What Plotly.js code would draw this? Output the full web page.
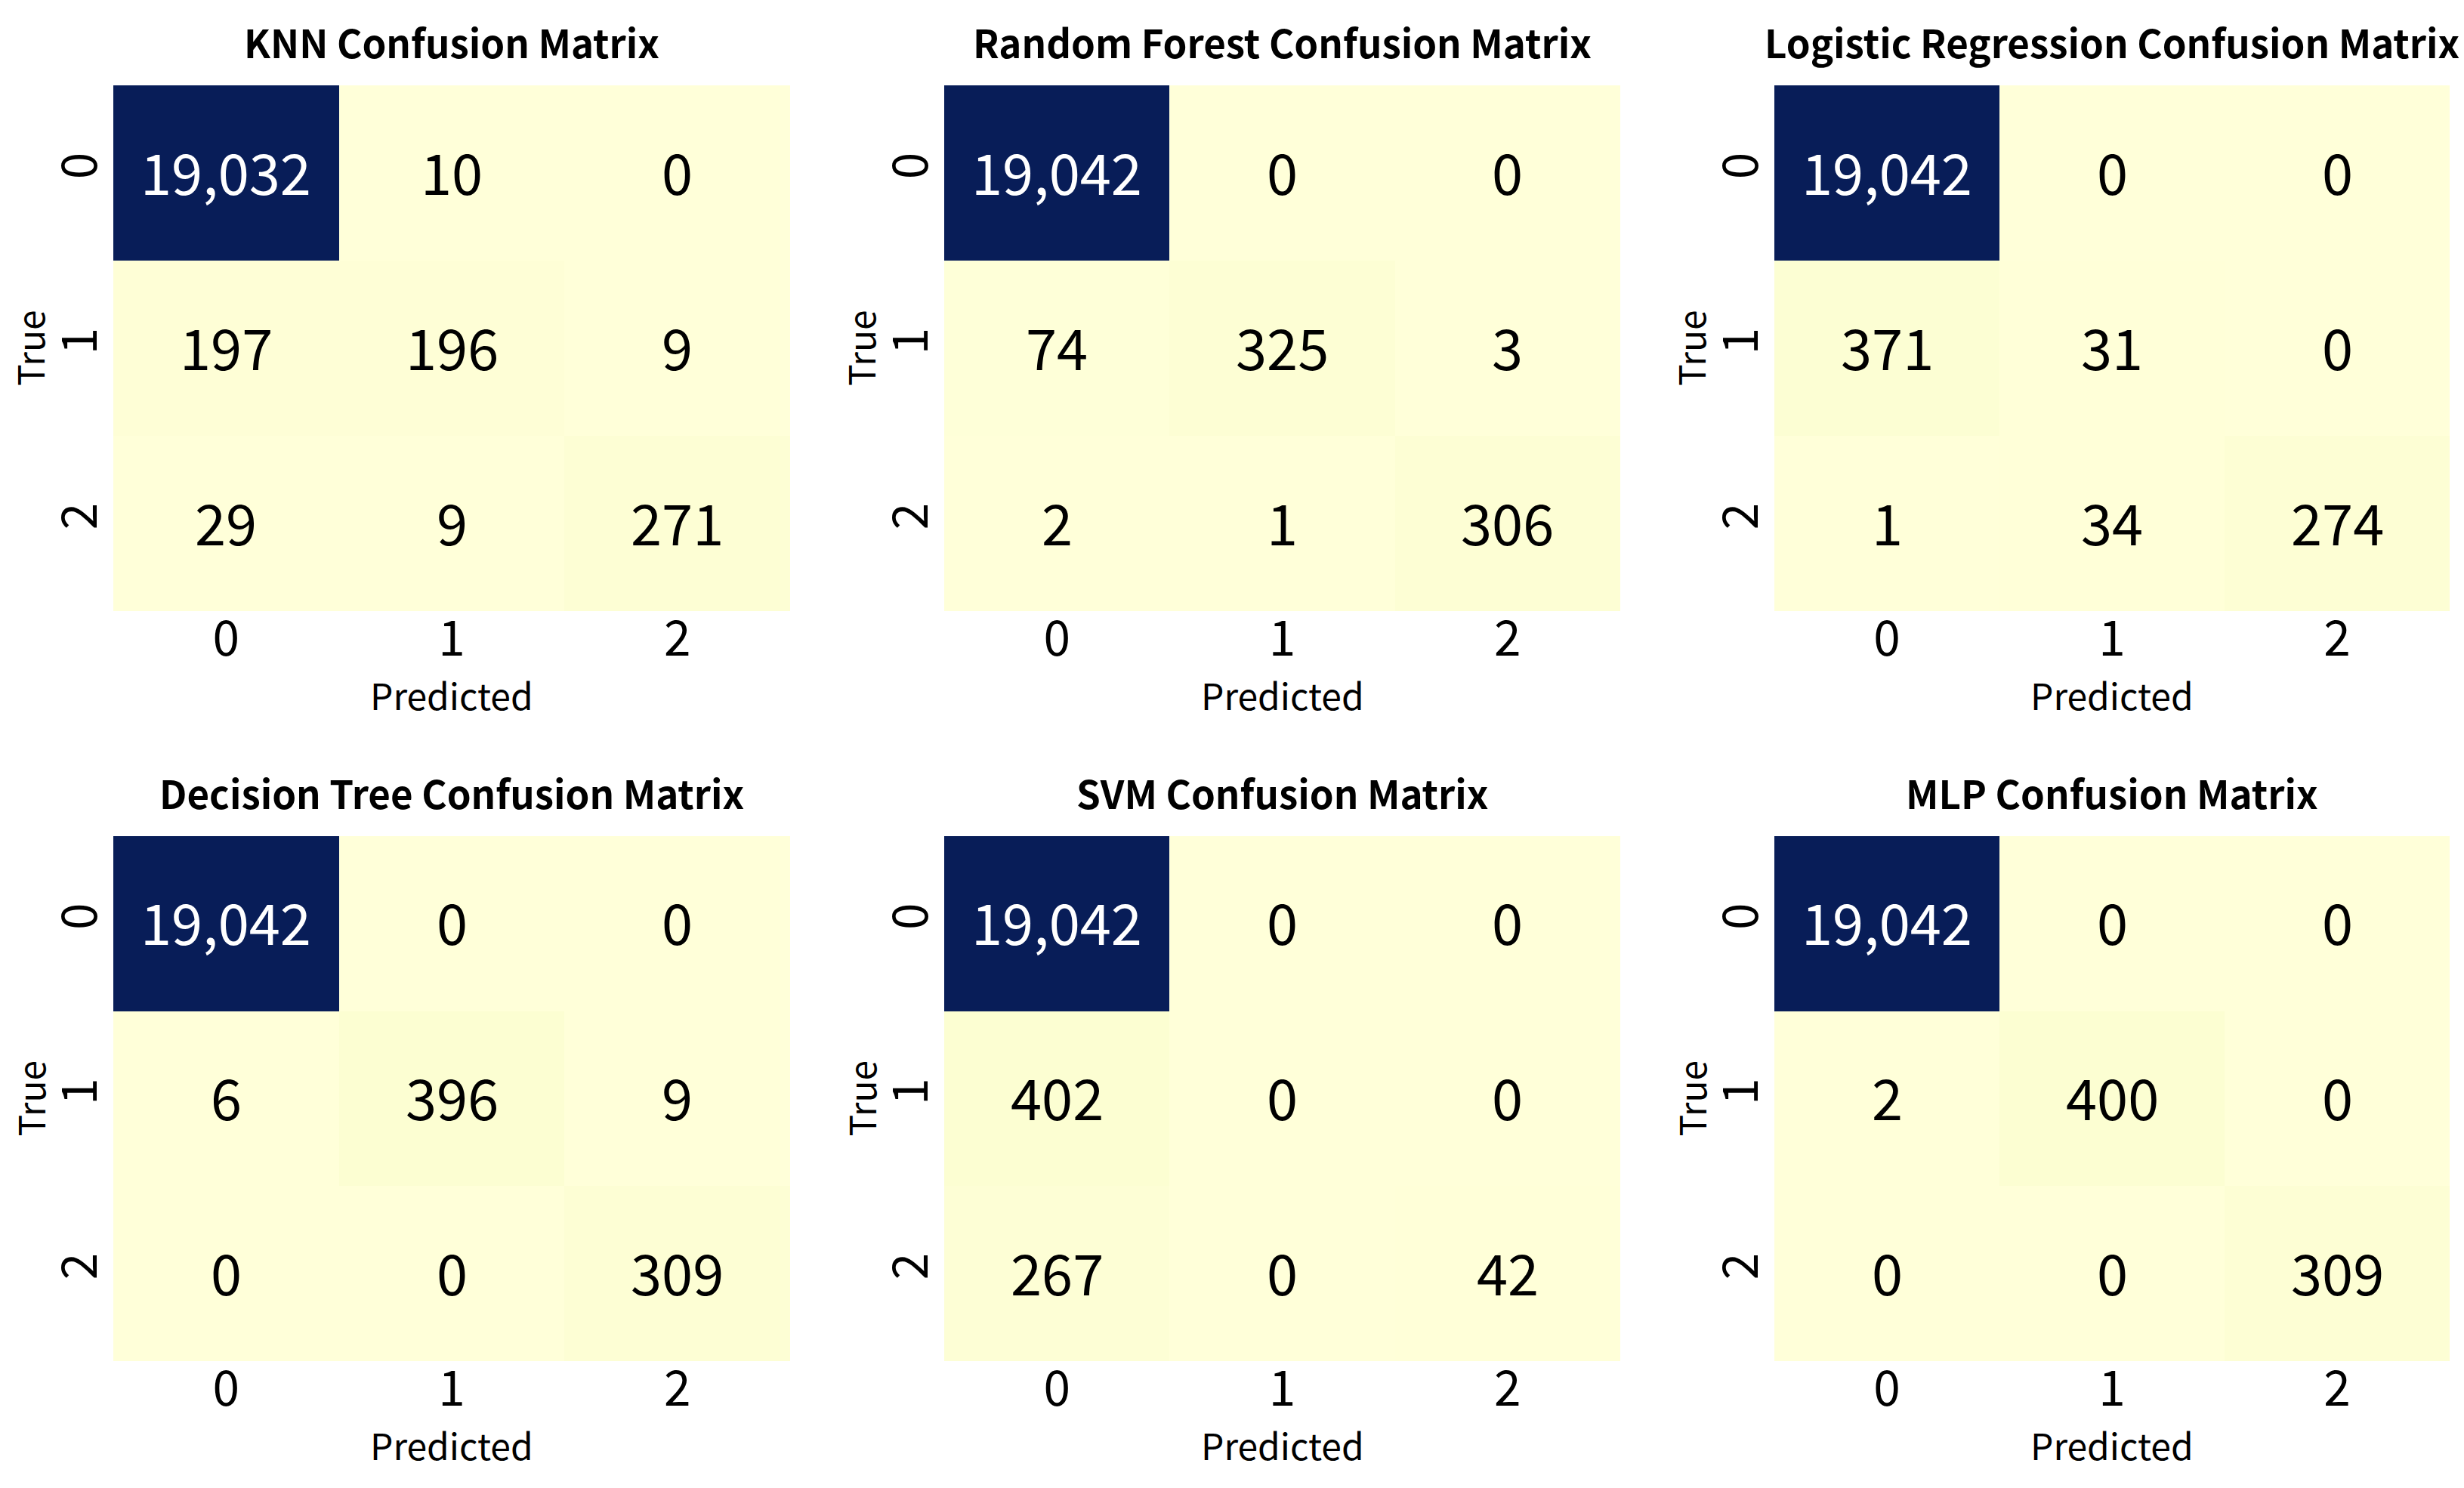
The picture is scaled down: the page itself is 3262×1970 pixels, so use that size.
<!DOCTYPE html>
<html>
<head>
<meta charset="utf-8">
<script src="https://cdn.plot.ly/plotly-3.0.1.min.js"></script>
<style>
    body { margin: 0; background: #ffffff; }
    #chart { width: 3262px; height: 1970px; }
</style>
</head>
<body>
<div id="chart"></div>
<script>
// Class labels shared by every matrix
const classLabels = ['0', '1', '2'];

// Model names, in grid order
const modelNames = ['KNN', 'Random Forest', 'Logistic Regression', 'Decision Tree', 'SVM', 'MLP'];

// Confusion matrices (rows = true, cols = predicted)
const knnMatrix = [[19032, 10, 0], [197, 196, 9], [29, 9, 271]];
const randomForestMatrix = [[19042, 0, 0], [74, 325, 3], [2, 1, 306]];
const logisticMatrix = [[19042, 0, 0], [371, 31, 0], [1, 34, 274]];
const decisionTreeMatrix = [[19042, 0, 0], [6, 396, 9], [0, 0, 309]];
const svmMatrix = [[19042, 0, 0], [402, 0, 0], [267, 0, 42]];
const mlpMatrix = [[19042, 0, 0], [2, 400, 0], [0, 0, 309]];

const matrices = [knnMatrix, randomForestMatrix, logisticMatrix, decisionTreeMatrix, svmMatrix, mlpMatrix];

// matplotlib YlGnBu
const ylGnBu = [
    [0.000, '#ffffd9'], [0.125, '#edf8b1'], [0.250, '#c7e9b4'],
    [0.375, '#7fcdbb'], [0.500, '#41b6c4'], [0.625, '#1d91c0'],
    [0.750, '#225ea8'], [0.875, '#253494'], [1.000, '#081d58']
];

const W = 3262, H = 1970;
const FONT = '"Noto Sans CJK KR", "Noto Sans", sans-serif';

// panel boxes in pixels
const colX = [[150, 1046], [1250, 2145], [2349, 3243]];
const rowY = [[113, 809], [1107, 1802]];

const traces = [];
const layout = {
    width: W,
    height: H,
    margin: { t: 0, b: 0, l: 0, r: 0 },
    paper_bgcolor: '#FFFFFF',
    plot_bgcolor: '#FFFFFF',
    font: { family: FONT, color: '#000000' },
    showlegend: false,
    annotations: []
};

matrices.forEach((m, i) => {
    const row = Math.floor(i / 3);
    const col = i % 3;
    const suffix = i === 0 ? '' : String(i + 1);
    const xd = [colX[col][0] / W, colX[col][1] / W];
    const yd = [1 - rowY[row][1] / H, 1 - rowY[row][0] / H];

    const flat = m.flat();
    const zmin = Math.min(...flat);
    const zmax = Math.max(...flat);

    traces.push({
        type: 'heatmap',
        z: m,
        x: [0, 1, 2],
        y: [0, 1, 2],
        xaxis: 'x' + suffix,
        yaxis: 'y' + suffix,
        colorscale: ylGnBu,
        zmin: zmin,
        zmax: zmax,
        showscale: false,
        hoverinfo: 'skip'
    });

    // cell values, white on dark cells
    m.forEach((rowVals, r) => {
        rowVals.forEach((v, c) => {
            const frac = (v - zmin) / (zmax - zmin);
            layout.annotations.push({
                text: v.toLocaleString('en-US'),
                xref: 'x' + suffix,
                yref: 'y' + suffix,
                x: c,
                y: r,
                yshift: 4,
                showarrow: false,
                font: { size: 74, family: FONT, color: frac > 0.5 ? '#ffffff' : '#000000' }
            });
        });
    });

    layout['xaxis' + suffix] = {
        domain: xd,
        anchor: 'y' + suffix,
        range: [-0.5, 2.5],
        tickvals: [0, 1, 2],
        ticktext: classLabels,
        ticks: '',
        ticklabelstandoff: -6,
        showgrid: false,
        zeroline: false,
        showline: false,
        tickfont: { size: 64, family: FONT, color: '#000000' }
    };

    layout['yaxis' + suffix] = {
        domain: yd,
        anchor: 'x' + suffix,
        range: [2.5, -0.5],
        tickvals: [0, 1, 2],
        ticktext: classLabels,
        tickangle: -90,
        ticks: '',
        ticklabelstandoff: 8,
        showgrid: false,
        zeroline: false,
        showline: false,
        tickfont: { size: 64, family: FONT, color: '#000000' }
    };

    // subplot title
    layout.annotations.push({
        text: '<b>' + modelNames[i] + ' Confusion Matrix</b>',
        xref: 'paper',
        yref: 'paper',
        x: (xd[0] + xd[1]) / 2,
        y: 1 - (rowY[row][0] - 58) / H,
        xanchor: 'center',
        yanchor: 'middle',
        showarrow: false,
        font: { size: 51, family: FONT, color: '#000000' }
    });

    // axis labels
    layout.annotations.push({
        text: 'Predicted',
        xref: 'paper',
        yref: 'paper',
        x: (xd[0] + xd[1]) / 2,
        y: 1 - (rowY[row][1] + 110) / H,
        xanchor: 'center',
        yanchor: 'middle',
        showarrow: false,
        font: { size: 48, family: FONT, color: '#000000' }
    });
    layout.annotations.push({
        text: 'True',
        xref: 'paper',
        yref: 'paper',
        x: (colX[col][0] - 112) / W,
        y: (yd[0] + yd[1]) / 2,
        xanchor: 'center',
        yanchor: 'middle',
        textangle: -90,
        showarrow: false,
        font: { size: 48, family: FONT, color: '#000000' }
    });
});

Plotly.newPlot('chart', traces, layout, { displayModeBar: false, staticPlot: true });
</script>
</body>
</html>
